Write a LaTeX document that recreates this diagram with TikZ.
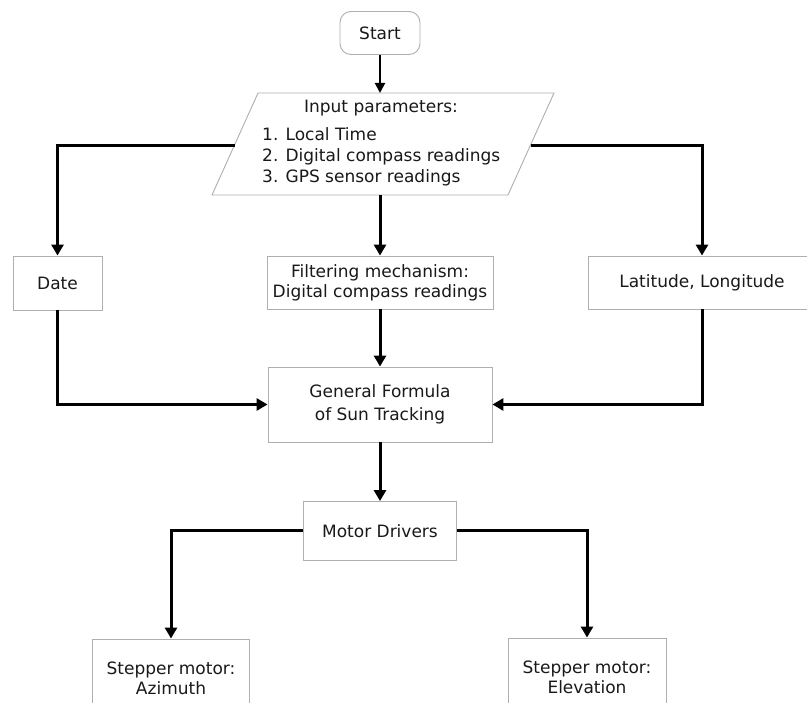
\documentclass[tikz,border=0pt]{standalone}
\usepackage{fontspec}
\setmainfont{DejaVu Sans}
\usetikzlibrary{arrows.meta}
\definecolor{edgegray}{RGB}{175,175,175}
\definecolor{ink}{RGB}{25,25,25}
\tikzset{
  box/.style={draw=edgegray, line width=0.9pt, fill=white, text=ink, align=center,
              inner sep=0pt, font=\fontsize{17}{20}\selectfont},
  conn/.style={draw=black, line width=3pt,
               -{Triangle[width=12pt,length=11pt]}},
  thinconn/.style={draw=black, line width=2pt,
               -{Triangle[width=10pt,length=10pt]}},
  listtext/.style={text=ink, inner sep=0pt, font=\fontsize{17}{20}\selectfont}
}
\begin{document}
\begin{tikzpicture}[x=1pt,y=-1pt]
\useasboundingbox (0,0) rectangle (807,703);

% start terminal
\node[box, rounded corners=11pt, minimum width=80pt, minimum height=43pt] (start) at (380,33) {Start};

% input parallelogram
\coordinate (pTL) at (258,93);
\coordinate (pTR) at (554,93);
\coordinate (pBR) at (508,195);
\coordinate (pBL) at (212,195);
\draw[edgegray, line width=0.9pt, fill=white] (pTL) -- (pTR) -- (pBR) -- (pBL) -- cycle;
\coordinate (inTop) at (380,93);
\coordinate (inBot) at (380,195);
\coordinate (inLeft) at (234.5,146);
\coordinate (inRight) at (530.5,146);
\node[listtext, anchor=base] (inHead) at (381,113) {Input parameters:};
\node[listtext, anchor=base west] (inOne) at (262,141) {1. Local Time};
\node[listtext, anchor=base west] (inTwo) at (262,162) {2. Digital compass readings};
\node[listtext, anchor=base west] (inThree) at (262,183) {3. GPS sensor readings};

% middle row
\node[box, minimum width=89pt, minimum height=54pt] (date) at (57.5,283) {Date};
\node[box, minimum width=226pt, minimum height=53pt] (filt) at (380,282.5) {Filtering mechanism:\\Digital compass readings};
\node[box, minimum width=228pt, minimum height=53pt] (lat) at (702,282.5) {Latitude, Longitude};

% formula and drivers
\node[box, minimum width=224pt, minimum height=75pt, font=\fontsize{17}{23}\selectfont] (gen) at (380,404.5) {General Formula\\of Sun Tracking};
\node[box, minimum width=153pt, minimum height=59pt] (motor) at (380,531) {Motor Drivers};

% motors
\node[box, minimum width=157pt, minimum height=79pt] (az) at (171,678.5) {Stepper motor:\\Azimuth};
\node[box, minimum width=158pt, minimum height=79pt] (el) at (587,677.5) {Stepper motor:\\Elevation};

% connectors
\draw[thinconn] (start.south) -- (inTop);
\draw[conn] (inLeft) -| (date.north);
\draw[conn] (inRight) -| (lat.north);
\draw[conn] (inBot) -- (filt.north);
\draw[conn] (filt.south) -- (gen.north);
\draw[conn] (date.south) |- (gen.west);
\draw[conn] (lat.south) |- (gen.east);
\draw[conn] (gen.south) -- (motor.north);
\draw[conn] (motor.west) -| (az.north);
\draw[conn] (motor.east) -| (el.north);
\end{tikzpicture}
\end{document}
